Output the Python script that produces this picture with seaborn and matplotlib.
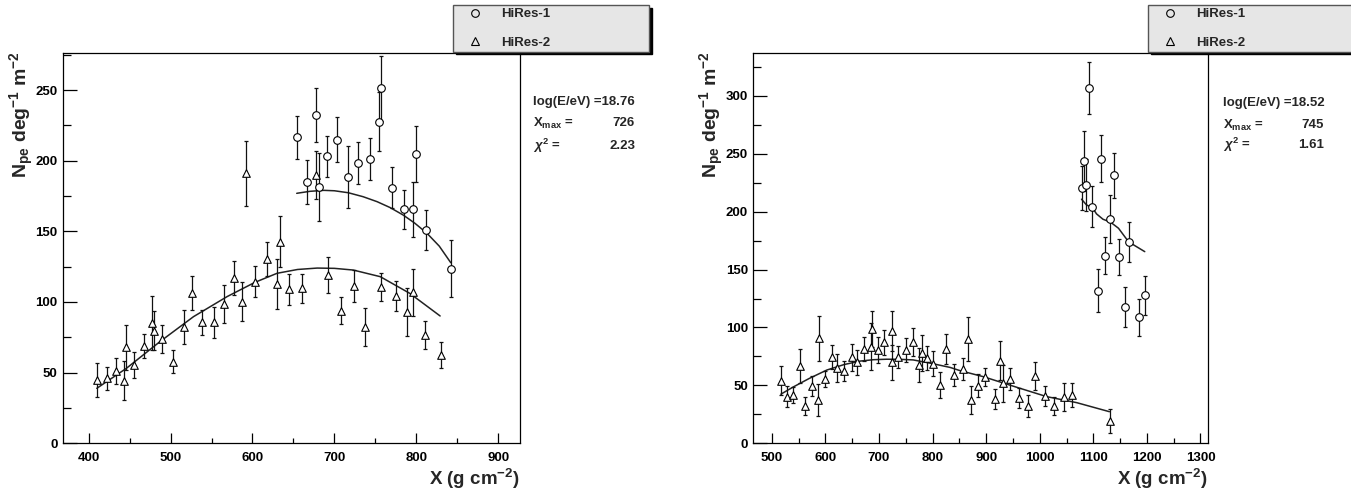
import numpy as np
import matplotlib
matplotlib.use("Agg")
import matplotlib.pyplot as plt
from matplotlib.lines import Line2D
from matplotlib.ticker import MultipleLocator
import seaborn as sns

# ---------------- data ----------------
# Event 1: log(E/eV) = 18.76
x1_a = [654, 667, 678, 681, 691, 703, 717, 729, 743, 754, 757, 770, 785, 796, 800, 812, 842]
y1_a = [216.5, 184.9, 232.5, 181.3, 203.0, 214.8, 188.2, 198.3, 201.1, 227.5, 251.1,
        180.9, 165.5, 165.5, 204.7, 150.9, 123.6]
e1_a = [15.4, 15.3, 19, 24, 14.4, 16, 22, 14.6, 15, 21, 23, 14.5, 14, 19.7, 20, 14, 20]

x2_a = [410, 422, 434, 443, 446, 455, 468, 477, 480, 490, 503, 516, 526, 539, 553, 565,
        578, 587, 592, 603, 618, 630, 633, 645, 661, 677, 692, 708, 724, 737, 757, 775,
        789, 796, 811, 830]
y2_a = [44.8, 46.0, 51.2, 44.3, 67.9, 55.4, 68.9, 84.9, 79.7, 73.8, 57.8, 82.1, 106.1,
        85.6, 85.6, 98.6, 116.7, 100.2, 191.0, 114.4, 130.2, 112.7, 142.7, 108.9, 109.6,
        189.8, 118.8, 93.8, 111.3, 82.5, 110.4, 104.5, 93.1, 106.8, 76.6, 62.5]
e2_a = [12.3, 8.3, 9, 14, 16, 9, 8.5, 19, 14, 10, 8, 12, 12, 9, 11, 13.5, 12, 14, 23, 11,
        12, 18, 18, 11, 10, 17, 12.7, 9.5, 11.5, 13.5, 10, 10.6, 17, 16.5, 10, 9]

fit1x_a = [654, 670, 687, 700, 717, 735, 752, 768, 784, 798, 813, 828, 842]
fit1y_a = [176.9, 178.3, 179.0, 178.7, 177.3, 174.5, 171.0, 166.8, 161.5, 155.8, 148.6, 139.5, 127.8]
fit2x_a = [410, 446, 487, 528, 569, 603, 630, 655, 679, 700, 723, 756, 792, 829]
fit2y_a = [38.9, 53.0, 71.9, 89.6, 103.8, 113.9, 120.3, 123.0, 124.0, 123.8, 122.6, 117.9, 106.1, 90.1]

# Event 2: log(E/eV) = 18.52
x1_b = [1078, 1083, 1086, 1092, 1098, 1108, 1114, 1122, 1131, 1139, 1148, 1159, 1166, 1186, 1196]
y1_b = [220.5, 244.1, 223.1, 306.9, 204.4, 131.8, 245.8, 161.8, 193.5, 231.5, 160.9,
        118.0, 173.9, 108.8, 127.8]
e1_b = [19, 26, 22.3, 22.6, 17.9, 18.7, 20.2, 16, 20.7, 19.6, 15.8, 17.3, 17.6, 15.8, 17]

x2_b = [517, 528, 540, 553, 562, 576, 586, 589, 599, 612, 622, 635, 649, 660, 673, 685,
        688, 698, 710, 724, 725, 735, 750, 764, 775, 780, 789, 800, 814, 826, 840, 856,
        867, 872, 884, 898, 916, 926, 932, 944, 961, 978, 992, 1010, 1026, 1046, 1060, 1131]
y2_b = [54.1, 40.3, 41.7, 66.8, 32.2, 49.5, 37.4, 90.7, 55.5, 74.3, 64.8, 62.7, 74.3, 70,
        81.5, 83.5, 98.5, 80.6, 87.2, 70, 97.3, 74.3, 80.6, 87.8, 67.6, 77.7, 73.4, 68.5,
        50.4, 81.5, 59, 63.9, 90.1, 37.4, 49.8, 57, 38.3, 71.4, 51.8, 55.3, 39.4, 32.2,
        58.1, 40.9, 32.2, 40.3, 41.7, 19.5]
e2_b = [12.5, 9.2, 7, 14.8, 7.9, 8.9, 13.7, 19.4, 7.2, 10.5, 12.2, 8.5, 11.8, 10.8, 10.2,
        20.4, 15.4, 11.2, 11, 15, 17.3, 9.6, 10.5, 12, 14.4, 15.4, 10.4, 10.8, 11.5, 13.2,
        9.5, 9.6, 19, 12.2, 10, 7.9, 8.6, 17, 15.8, 9.4, 8.6, 9.6, 12.5, 8.4, 7.9, 12,
        10.7, 10.4]

fit1x_b = [1078, 1087, 1099, 1106, 1118, 1132, 1147, 1166, 1196]
fit1y_b = [210.8, 206.0, 203.0, 198.1, 193.5, 191.0, 185.7, 173.9, 165.5]
fit2x_b = [517, 540, 570, 603, 635, 665, 690, 714, 740, 764, 801, 833, 851, 895, 957, 1013, 1069, 1130]
fit2y_b = [42.4, 48.6, 56.0, 63.3, 68.0, 71.0, 72.2, 72.6, 72.5, 72.0, 68.7, 65.5, 62.8,
           57.5, 48.4, 40.3, 35.1, 27.3]

labels = ["HiRes-1", "HiRes-2"]
stats_a = ["18.76", "726", "2.23"]
stats_b = ["18.52", "745", "1.61"]

# ---------------- style ----------------
sns.set_theme(style="white")
plt.rcParams["font.family"] = ["Liberation Sans", "DejaVu Sans"]
plt.rcParams["font.weight"] = "bold"
plt.rcParams["axes.labelweight"] = "bold"
plt.rcParams["mathtext.fontset"] = "custom"
plt.rcParams["mathtext.rm"] = "Liberation Sans:bold"
plt.rcParams["mathtext.bf"] = "Liberation Sans:bold"
plt.rcParams["mathtext.it"] = "Liberation Sans:italic"
plt.rcParams["mathtext.default"] = "rm"

W, H = 1351, 492
fig = plt.figure(figsize=(W / 100, H / 100), dpi=100)


def px_rect(x0, x1, ytop, ybot):
    return [x0 / W, 1 - ybot / H, (x1 - x0) / W, (ybot - ytop) / H]


def panel(ax, xlim, ylim, x1, y1, e1, x2, y2, e2, f1x, f1y, f2x, f2y):
    # fitted longitudinal profiles
    sns.lineplot(x=f1x, y=f1y, ax=ax, color="#222222", lw=1.1, sort=True, zorder=2)
    sns.lineplot(x=f2x, y=f2y, ax=ax, color="#222222", lw=1.1, sort=True, zorder=2)
    # measured points with error bars
    for xs, ys, es, mk in ((x1, y1, e1, "o"), (x2, y2, e2, "^")):
        ax.errorbar(xs, ys, yerr=es, fmt="none", ecolor="#111111", elinewidth=0.9,
                    capsize=1.6, capthick=0.9, zorder=3)
        sns.scatterplot(x=xs, y=ys, ax=ax, marker=mk, s=30, facecolor="white",
                        edgecolor="black", linewidth=0.8, zorder=4)
    ax.set_xlim(*xlim)
    ax.set_ylim(*ylim)
    ax.xaxis.set_major_locator(MultipleLocator(100))
    ax.xaxis.set_minor_locator(MultipleLocator(50))
    ax.yaxis.set_major_locator(MultipleLocator(50))
    ax.yaxis.set_minor_locator(MultipleLocator(25))
    ax.tick_params(which="both", direction="in", bottom=True, left=True,
                   top=False, right=False, colors="black", labelsize=9.5, width=0.9)
    ax.tick_params(axis="x", which="major", length=7, pad=6)
    ax.tick_params(axis="x", which="minor", length=3.6)
    ax.tick_params(axis="y", which="major", length=10, pad=4)
    ax.tick_params(axis="y", which="minor", length=6)
    for lab in ax.get_xticklabels() + ax.get_yticklabels():
        lab.set_fontweight("bold")
    for sp in ax.spines.values():
        sp.set_visible(True)
        sp.set_color("black")
        sp.set_linewidth(0.9)
    ax.set_xlabel(r"X (g cm$^{-2}$)", loc="right", fontsize=13.5)
    ax.xaxis.set_label_coords(1.0, -0.06)
    ax.set_ylabel(r"N$_{pe}$ deg$^{-1}$ m$^{-2}$", loc="top", fontsize=14)
    ax.yaxis.set_label_coords(-0.06, 1.005)


ax_a = fig.add_axes(px_rect(63.2, 519.6, 52.7, 443.3))
ax_b = fig.add_axes(px_rect(753.5, 1208, 52.7, 443.3))

panel(ax_a, (369, 926), (0, 276.4), x1_a, y1_a, e1_a, x2_a, y2_a, e2_a,
      fit1x_a, fit1y_a, fit2x_a, fit2y_a)
panel(ax_b, (466, 1314), (0, 337.3), x1_b, y1_b, e1_b, x2_b, y2_b, e2_b,
      fit1x_b, fit1y_b, fit2x_b, fit2y_b)

# legends
handles = [Line2D([], [], ls="none", marker="o", mfc="none", mec="black", ms=5.5, mew=0.8),
           Line2D([], [], ls="none", marker="^", mfc="none", mec="black", ms=5.5, mew=0.8)]
for x0, x1 in ((453, 649), (1148, 1355)):
    fig.legend(handles, labels, loc="lower left",
               bbox_to_anchor=(x0 / W, 1 - 51.7 / H, (x1 - x0) / W, 0.2),
               mode="expand", borderaxespad=0, fancybox=False, framealpha=1,
               facecolor="#e6e6e6", edgecolor="#555555",
               shadow={"ox": 2, "oy": -2, "facecolor": "black", "edgecolor": "black", "alpha": 1},
               prop={"weight": "bold", "size": 9.5}, labelspacing=1.25, borderpad=0.2,
               handlelength=3.0, handletextpad=0.45)


# fit results
def stats(xl, xr, rows, vals):
    ys = rows
    fig.text(xl / W, 1 - ys[0] / H, "log(E/eV) =" + vals[0], fontsize=9.5,
             fontweight="bold", ha="left", va="center")
    fig.text(xl / W, 1 - ys[1] / H, r"X$_{max}$ =", fontsize=9.5,
             fontweight="bold", ha="left", va="center")
    fig.text(xr / W, 1 - ys[1] / H, vals[1], fontsize=9.5,
             fontweight="bold", ha="right", va="center")
    fig.text(xl / W, 1 - ys[2] / H, r"$\mathit{\chi}^{2}$ =", fontsize=9.5,
             fontweight="bold", ha="left", va="center")
    fig.text(xr / W, 1 - ys[2] / H, vals[2], fontsize=9.5,
             fontweight="bold", ha="right", va="center")


stats(533, 635, (102.3, 123.3, 146), stats_a)
stats(1223, 1324, (103.3, 125, 145), stats_b)

fig.savefig("out.png", dpi=100)
